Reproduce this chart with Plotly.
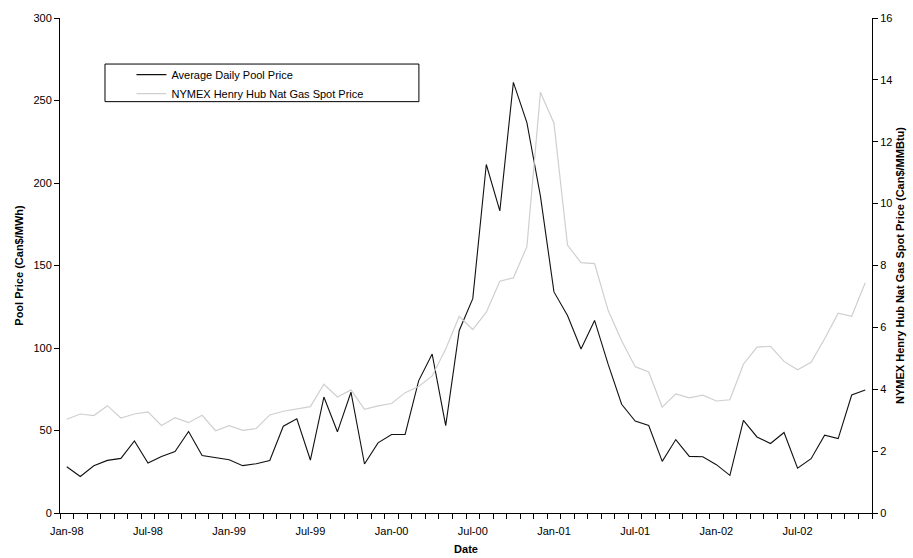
import pandas as pd
import plotly.graph_objects as go

months = [d.strftime("%b-%y") for d in pd.date_range("1998-01-01", periods=60, freq="MS")]

pool_price = [
    28.0, 22.1, 28.6, 31.9, 33.1, 43.7, 30.3, 34.3, 37.2, 49.4, 34.8, 33.7,
    32.3, 28.7, 29.9, 31.8, 52.6, 57.1, 32.1, 70.3, 49.2, 73.2, 29.7, 42.5,
    47.6, 47.6, 80.1, 96.3, 53.0, 110.6, 129.9, 211.2, 183.1, 261.0, 236.6, 192.0,
    134.0, 119.7, 99.4, 116.7, 90.2, 65.9, 55.7, 53.0, 31.3, 44.5, 34.3, 34.1,
    29.3, 22.8, 56.1, 46.1, 42.1, 48.8, 27.2, 32.9, 47.2, 45.1, 71.5, 74.6,
]

gas_price = [
    3.03, 3.20, 3.15, 3.47, 3.07, 3.20, 3.27, 2.83, 3.08, 2.92, 3.16, 2.66,
    2.82, 2.67, 2.73, 3.17, 3.29, 3.37, 3.44, 4.16, 3.75, 3.98, 3.35, 3.46,
    3.54, 3.89, 4.09, 4.43, 5.30, 6.36, 5.93, 6.49, 7.49, 7.60, 8.61, 13.60,
    12.60, 8.66, 8.09, 8.06, 6.55, 5.57, 4.73, 4.56, 3.42, 3.85, 3.72, 3.81,
    3.62, 3.66, 4.81, 5.36, 5.39, 4.90, 4.63, 4.87, 5.63, 6.46, 6.36, 7.44,
]

label_months = ["Jan-98", "Jul-98", "Jan-99", "Jul-99", "Jan-00", "Jul-00",
                "Jan-01", "Jul-01", "Jan-02", "Jul-02"]

pos = list(range(len(months)))
tickvals = [months.index(m) for m in label_months]

FONT = "Liberation Sans, Arial, sans-serif"

fig = go.Figure()
fig.add_trace(go.Scatter(
    x=pos, y=pool_price, mode="lines", name="Average Daily Pool Price",
    line=dict(color="#111111", width=1.1), customdata=months,
))
fig.add_trace(go.Scatter(
    x=pos, y=gas_price, mode="lines", name="NYMEX Henry Hub Nat Gas Spot Price",
    line=dict(color="#cfcfcf", width=1.2), yaxis="y2", customdata=months,
))

axis_common = dict(
    showline=True, linecolor="#000000", linewidth=1, ticks="outside",
    ticklen=5, tickcolor="#000000", showgrid=False, zeroline=False,
    automargin=False,
    tickfont=dict(family=FONT, size=11, color="#000000"),
)

fig.update_layout(
    width=913, height=558,
    margin=dict(l=60, r=41, t=18, b=45, autoexpand=False),
    paper_bgcolor="white", plot_bgcolor="white",
    font=dict(family=FONT, size=11, color="#000000"),
    xaxis=dict(
        range=[-0.5, len(months) - 0.5],
        tickvals=tickvals, ticktext=label_months,
        ticks="outside", ticklen=8, tickcolor="rgba(0,0,0,0)",
        minor=dict(tick0=-0.5, dtick=1, ticks="outside", ticklen=5,
                   tickcolor="#000000", showgrid=False),
        showline=True, linecolor="#000000", linewidth=1, showgrid=False,
        zeroline=False, automargin=False,
        tickfont=dict(family=FONT, size=11, color="#000000"),
        title=dict(text="<b>Date</b>", font=dict(family=FONT, size=11), standoff=9),
    ),
    yaxis=dict(
        range=[0, 300], dtick=50, **axis_common,
        title=dict(text="<b>Pool Price (Can$/MWh)</b>", font=dict(family=FONT, size=11), standoff=7),
    ),
    yaxis2=dict(
        range=[0, 16], dtick=2, overlaying="y", side="right", **axis_common,
        title=dict(text="<b>NYMEX Henry Hub Nat Gas Spot Price (Can$/MMBtu)</b>",
                   font=dict(family=FONT, size=11), standoff=4),
    ),
    showlegend=True,
    legend=dict(
        x=0.088, y=0.915, xanchor="left", yanchor="top",
        bgcolor="rgba(0,0,0,0)", borderwidth=0,
        font=dict(family=FONT, size=11, color="#000000"),
        itemwidth=30, tracegroupgap=0,
    ),
    shapes=[dict(
        type="rect", xref="paper", yref="paper",
        x0=0.0554, x1=0.442, y0=0.831, y1=0.907,
        line=dict(color="#000000", width=1), fillcolor="rgba(0,0,0,0)", layer="below",
    )],
)

fig.write_html("out.html", config={"displayModeBar": False},
               post_script="document.body.style.margin='0';")
